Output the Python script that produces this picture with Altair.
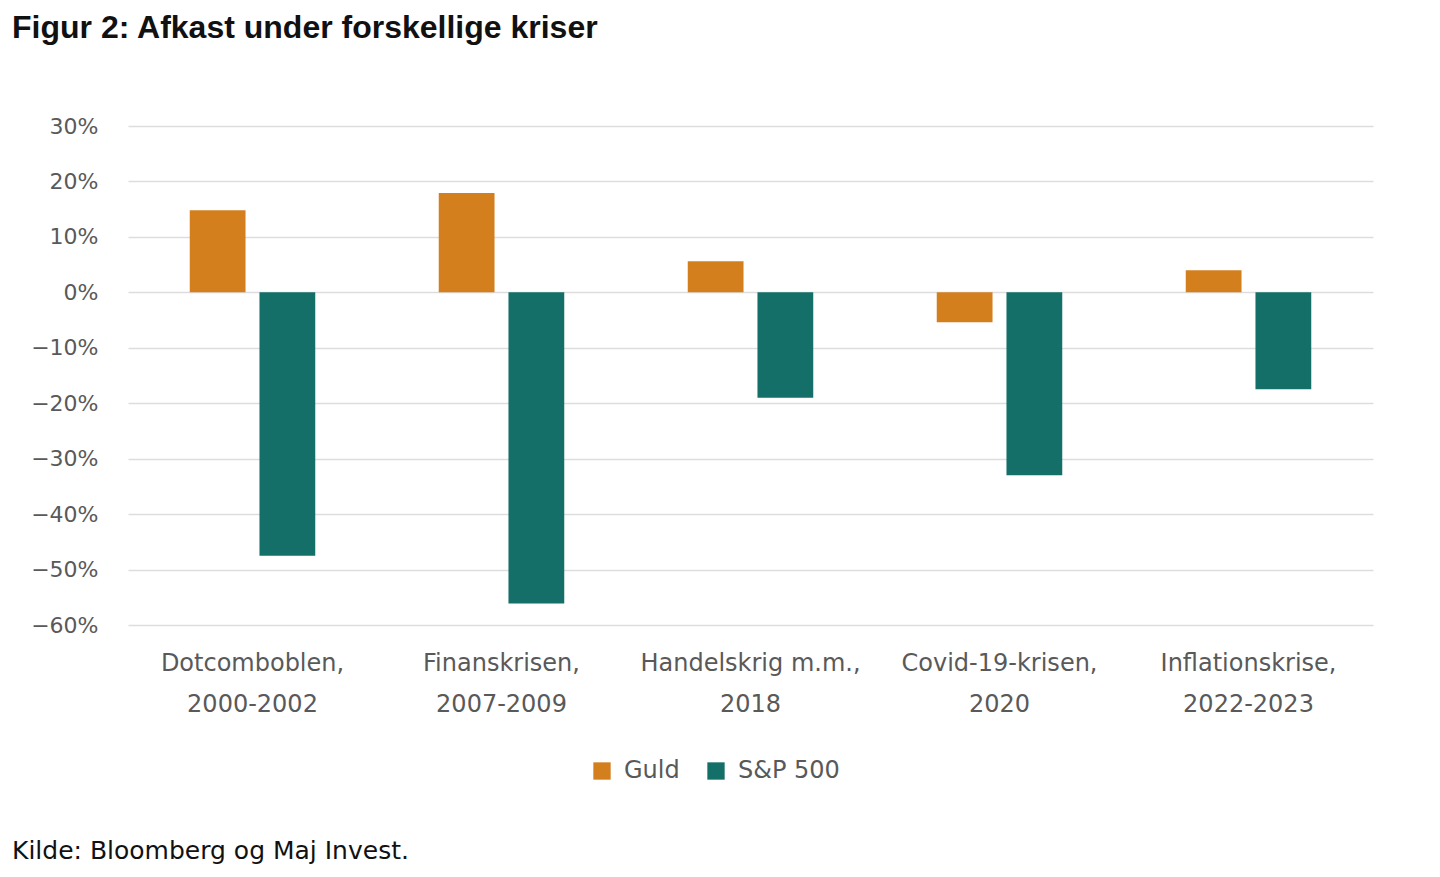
import altair as alt
import pandas as pd

categories = ["Dotcomboblen, 2000-2002", "Finanskrisen, 2007-2009", "Handelskrig m.m., 2018",
              "Covid-19-krisen, 2020", "Inflationskrise, 2022-2023"]
series = ["Guld", "S&P 500"]
guld = [0.148, 0.179, 0.056, -0.054, 0.040]
sp500 = [-0.475, -0.561, -0.190, -0.330, -0.175]
colors = ["#D47F1E", "#136F68"]
title_text = "Figur 2: Afkast under forskellige kriser"
source_text = "Kilde: Bloomberg og Maj Invest."

rows = []
for c, g, s in zip(categories, guld, sp500):
    rows.append({"Krise": c, "Serie": "Guld", "Afkast": g})
    rows.append({"Krise": c, "Serie": "S&P 500", "Afkast": s})
df = pd.DataFrame(rows)

FONT = "DejaVu Sans"

bars = alt.Chart(df).mark_bar().encode(
    x=alt.X("Krise:N", sort=categories, title=None,
            scale=alt.Scale(paddingInner=0.44, paddingOuter=0.22),
            axis=alt.Axis(labelAngle=0, domain=False, ticks=False, labelFont=FONT,
                          labelFontSize=24, labelColor="#595959", labelPadding=26,
                          labelLineHeight=41, labelBaseline="top", labelLimit=0,
                          labelExpr="[slice(datum.label,0,indexof(datum.label,', ')+1), slice(datum.label,indexof(datum.label,', ')+2)]")),
    xOffset=alt.XOffset("Serie:N", sort=series, scale=alt.Scale(paddingInner=0.2, paddingOuter=0.1)),
    y=alt.Y("Afkast:Q", title=None,
            scale=alt.Scale(domain=[-0.6, 0.3], nice=False),
            axis=alt.Axis(format=".0%", values=[0.3, 0.2, 0.1, 0, -0.1, -0.2, -0.3, -0.4, -0.5, -0.6],
                          domain=False, ticks=False, labelFont=FONT, labelFontSize=22,
                          labelColor="#595959", labelPadding=30, gridColor="#DDDDDD",
                          gridWidth=1.5)),
    color=alt.Color("Serie:N", sort=series, scale=alt.Scale(domain=series, range=colors),
                    legend=alt.Legend(title=None, orient="none", direction="horizontal",
                                      legendX=462, legendY=633, symbolType="square",
                                      symbolSize=300, labelFont=FONT, labelFontSize=24,
                                      labelColor="#595959", columnPadding=24, labelOffset=10,
                                      symbolOpacity=1, symbolStrokeWidth=0)),
)

title = alt.Chart(pd.DataFrame({"t": [title_text]})).mark_text(
    align="left", baseline="middle", font="Liberation Sans", fontSize=32,
    fontWeight="bold", color="#111111"
).encode(text="t:N", x=alt.value(-116), y=alt.value(-98))

source = alt.Chart(pd.DataFrame({"t": [source_text]})).mark_text(
    align="left", baseline="middle", font="DejaVu Sans", fontSize=25, color="#111111"
).encode(text="t:N", x=alt.value(-116), y=alt.value(725))

chart = alt.layer(bars, title, source).properties(
    width=1245, height=499,
    autosize=alt.AutoSizeParams(type="none"),
    padding={"left": 120, "top": 118, "right": 55, "bottom": 250},
    background="white",
).configure_view(stroke=None)

chart.save("out.html", embed_options={"renderer": "svg", "actions": False})
